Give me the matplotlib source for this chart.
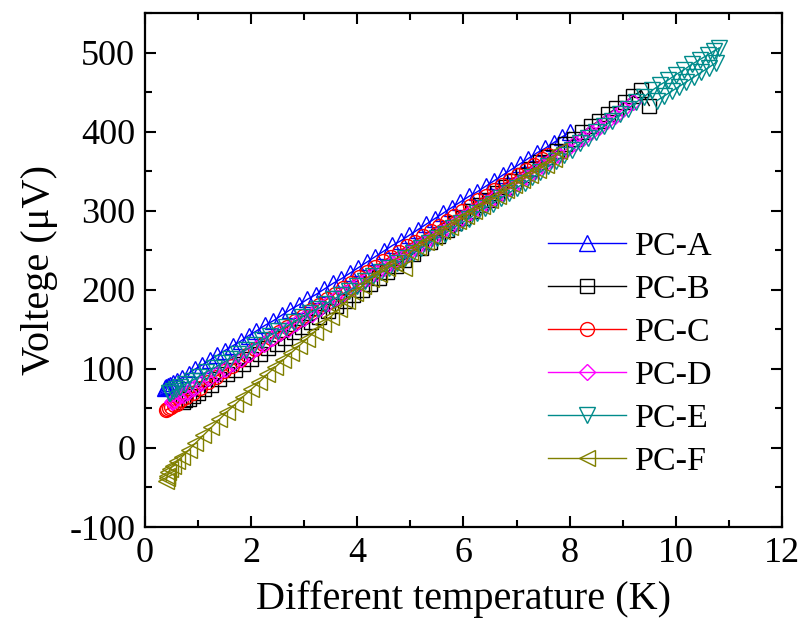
import numpy as np
import matplotlib
matplotlib.use('Agg')
import matplotlib.pyplot as plt
from matplotlib.ticker import MultipleLocator

# PC-A
a_x = [0.38, 0.40, 0.43, 0.47, 0.52, 0.60, 0.70, 0.82, 0.95, 1.08, 1.22, 1.36, 1.50, 1.65,
       1.80, 1.95, 2.10, 2.26, 2.42, 2.58, 2.74, 2.90, 3.06, 3.22, 3.38, 3.54, 3.70, 3.86,
       4.02, 4.18, 4.34, 4.50, 4.66, 4.82, 4.98, 5.14, 5.30, 5.46, 5.62, 5.78, 5.94, 6.10,
       6.26, 6.42, 6.58, 6.74, 6.90, 7.06, 7.22, 7.38, 7.54, 7.70, 7.85, 8.00]
a_y = [76, 77, 78, 80, 82, 85, 89, 94, 100, 105, 111, 117, 123, 129,
       135, 142, 148, 155, 161, 168, 175, 181, 188, 194, 201, 208, 214, 221,
       228, 235, 242, 249, 256, 262, 269, 276, 283, 290, 297, 304, 311, 318,
       324, 331, 338, 345, 352, 359, 366, 373, 379, 386, 393, 399]

# PC-B
b_x = [0.72, 0.76, 0.82, 0.90, 1.00, 1.12, 1.25, 1.40, 1.55, 1.70, 1.85, 2.00, 2.16, 2.32,
       2.48, 2.64, 2.80, 2.96, 3.12, 3.28, 3.44, 3.60, 3.76, 3.92, 4.08, 4.24, 4.40, 4.56,
       4.72, 4.88, 5.04, 5.20, 5.36, 5.52, 5.68, 5.84, 6.00, 6.16, 6.32, 6.48, 6.64, 6.80,
       6.96, 7.12, 7.28, 7.44, 7.60, 7.76, 7.92, 8.08, 8.24, 8.40, 8.56, 8.72, 8.88, 9.04,
       9.20, 9.35, 9.50]
b_y = [58, 60, 62, 66, 70, 75, 80, 87, 93, 99, 106, 112, 119, 126,
       132, 139, 146, 153, 159, 166, 173, 180, 186, 193, 200, 207, 215, 222,
       230, 238, 245, 253, 261, 268, 276, 284, 291, 299, 307, 314, 322, 330,
       337, 345, 353, 361, 368, 376, 384, 391, 399, 407, 414, 422, 430, 437,
       445, 452, 433]

# PC-C
c_x = [0.40, 0.42, 0.45, 0.49, 0.54, 0.60, 0.68, 0.78, 0.90, 1.04, 1.18, 1.33, 1.48, 1.63,
       1.78, 1.93, 2.08, 2.23, 2.38, 2.53, 2.68, 2.83, 2.98, 3.13, 3.28, 3.43, 3.58, 3.73,
       3.88, 4.03, 4.18, 4.33, 4.48, 4.63, 4.78, 4.93, 5.08, 5.23, 5.38, 5.53, 5.68, 5.83,
       5.98, 6.13, 6.28, 6.43, 6.58, 6.73, 6.88, 7.03, 7.18, 7.33, 7.48, 7.60]
c_y = [48, 49, 50, 52, 54, 56, 60, 64, 70, 76, 83, 90, 97, 104,
       111, 118, 125, 132, 139, 146, 153, 160, 167, 174, 181, 188, 195, 202,
       209, 216, 223, 229, 236, 242, 248, 255, 261, 268, 274, 281, 287, 293,
       300, 306, 313, 319, 326, 332, 339, 345, 352, 358, 365, 370]

# PC-D
d_x = [0.50, 0.53, 0.57, 0.63, 0.71, 0.81, 0.93, 1.06, 1.20, 1.35, 1.50, 1.65, 1.80, 1.95,
       2.10, 2.25, 2.40, 2.55, 2.70, 2.85, 3.00, 3.15, 3.30, 3.45, 3.60, 3.75, 3.90, 4.05,
       4.20, 4.35, 4.50, 4.65, 4.80, 4.95, 5.10, 5.25, 5.40, 5.55, 5.70, 5.85, 6.00, 6.15,
       6.30, 6.45, 6.60, 6.75, 6.90, 7.05, 7.20, 7.35, 7.50, 7.65, 7.80, 7.95, 8.10, 8.25,
       8.40, 8.55, 8.70, 8.85, 9.00, 9.20]
d_y = [58, 59, 61, 64, 67, 71, 76, 82, 88, 94, 100, 107, 113, 119,
       126, 132, 139, 145, 151, 158, 164, 170, 177, 183, 189, 196, 202, 208,
       215, 221, 228, 234, 240, 247, 253, 259, 266, 272, 278, 285, 291, 298,
       304, 310, 317, 323, 329, 336, 343, 350, 357, 364, 371, 378, 385, 392,
       399, 406, 413, 420, 428, 437]

# PC-E (up run, then a second pass near the top)
e_x = [0.45, 0.48, 0.52, 0.58, 0.66, 0.76, 0.88, 1.01, 1.15, 1.30, 1.45, 1.60, 1.75, 1.90,
       2.05, 2.20, 2.35, 2.50, 2.65, 2.80, 2.95, 3.10, 3.25, 3.40, 3.55, 3.70, 3.85, 4.00,
       4.15, 4.30, 4.45, 4.60, 4.75, 4.90, 5.05, 5.20, 5.35, 5.50, 5.65, 5.80, 5.95, 6.10,
       6.25, 6.40, 6.55, 6.70, 6.85, 7.00, 7.15, 7.30, 7.45, 7.60, 7.75, 7.90, 8.05, 8.20,
       8.35, 8.50, 8.65, 8.80, 8.95, 9.10, 9.25, 9.40, 9.55, 9.70, 9.85, 10.00, 10.15, 10.30,
       10.45, 10.60, 10.72, 10.82, 10.75, 10.62, 10.48, 10.34, 10.20, 10.06, 9.92, 9.78, 9.64]
e_y = [69, 70, 72, 74, 77, 81, 85, 90, 96, 101, 107, 113, 119, 124,
       130, 136, 142, 148, 153, 159, 165, 171, 176, 182, 188, 194, 199, 205,
       211, 217, 222, 228, 234, 240, 246, 253, 259, 265, 271, 278, 284, 290,
       297, 303, 309, 316, 322, 329, 335, 342, 349, 356, 363, 370, 377, 385,
       392, 399, 407, 414, 422, 429, 437, 444, 452, 459, 465, 472, 478, 485,
       491, 497, 502, 506, 487, 481, 475, 469, 463, 457, 451, 445, 439]

# PC-F
f_x = [0.40, 0.41, 0.42, 0.44, 0.47, 0.52, 0.60, 0.70, 0.82, 0.95, 1.10, 1.25, 1.40, 1.55,
       1.70, 1.85, 2.00, 2.15, 2.30, 2.45, 2.60, 2.75, 2.90, 3.05, 3.20, 3.35, 3.50, 3.65,
       3.80, 3.95, 4.10, 4.25, 4.40, 4.55, 4.70, 4.87, 5.00, 5.15, 5.30, 5.45, 5.60, 5.75,
       5.90, 6.05, 6.20, 6.35, 6.50, 6.65, 6.80, 6.95, 7.10, 7.25, 7.40, 7.55, 7.70, 7.80]
f_y = [-42, -38, -35, -31, -27, -23, -17, -11, -3, 6, 16, 26, 36, 46,
       55, 65, 74, 83, 93, 102, 111, 120, 129, 138, 147, 157, 166, 176,
       186, 196, 205, 213, 220, 227, 234, 227, 248, 254, 261, 267, 274, 280,
       287, 293, 300, 306, 313, 319, 326, 332, 339, 345, 352, 358, 365, 376]

labels = ['PC-A', 'PC-B', 'PC-C', 'PC-D', 'PC-E', 'PC-F']
colors = ['#0000ff', '#000000', '#ff0000', '#ff00ff', '#008b8b', '#808000']
markers = ['^', 's', 'o', 'D', 'v', '<']
msizes = [11, 9.5, 10, 8, 11, 11]


def main():
    plt.rcParams['font.family'] = ['Liberation Serif', 'DejaVu Serif']
    plt.rcParams['axes.unicode_minus'] = False

    fig = plt.figure(figsize=(8.03, 6.19), dpi=100)
    ax = fig.add_axes([0.1806, 0.1486, 0.7932, 0.8304])

    series = [(a_x, a_y), (b_x, b_y), (c_x, c_y), (d_x, d_y), (e_x, e_y), (f_x, f_y)]
    for (x, y), lab, col, mk, ms in zip(series, labels, colors, markers, msizes):
        ax.plot(x, y, color=col, marker=mk, markersize=ms, markerfacecolor='none',
                markeredgecolor=col, markeredgewidth=1.0, linewidth=1.0, label=lab)

    ax.set_xlim(0, 12)
    ax.set_ylim(-100, 550)
    ax.xaxis.set_major_locator(MultipleLocator(2))
    ax.xaxis.set_minor_locator(MultipleLocator(1))
    ax.yaxis.set_major_locator(MultipleLocator(100))
    ax.yaxis.set_minor_locator(MultipleLocator(50))
    ax.tick_params(which='both', direction='in', top=True, right=True, width=1.5)
    ax.tick_params(which='major', length=8, labelsize=26, pad=7)
    ax.tick_params(which='minor', length=5)
    for s in ax.spines.values():
        s.set_linewidth(1.6)

    ax.set_xlabel('Different temperature (K)', fontsize=29, labelpad=8)
    ax.set_ylabel('Voltege (\u03bcV)', fontsize=29, labelpad=8)

    ax.legend(loc='center left', bbox_to_anchor=(0.633, 0.336), frameon=False,
              fontsize=24.5, numpoints=1, handlelength=2.3, handletextpad=0.25,
              labelspacing=0.36, borderpad=0, borderaxespad=0)

    fig.savefig('out.png', dpi=100)


if __name__ == '__main__':
    main()
